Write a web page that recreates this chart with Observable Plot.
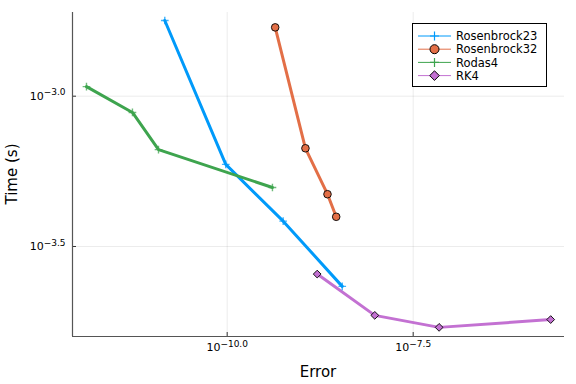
<!DOCTYPE html>
<html><head><meta charset="utf-8">
<script src="https://cdn.jsdelivr.net/npm/d3@7"></script>
<script src="https://cdn.jsdelivr.net/npm/@observablehq/plot@0.6"></script>
<style>
body{margin:0;background:#fff;font-family:"DejaVu Sans",sans-serif;}
#wrap{position:relative;width:576px;height:384px;}
#legend{position:absolute;left:411.5px;top:22.5px;width:135px;height:64px;border:1px solid #000;background:#fff;box-sizing:border-box;}
</style></head><body><div id="wrap"></div>
<script>
const seriesNames = ["Rosenbrock23", "Rosenbrock32", "Rodas4", "RK4"];
const seriesColors = ["#009AFA", "#E36F47", "#3EA44E", "#C371D2"];
const seriesSymbols = ["plus", "circle", "plus", "diamond2"];

const rosenbrock23Error = [1.45e-11, 9.57e-11, 5.66e-10, 3.52e-9];
const rosenbrock23Time  = [1.786e-3, 5.93e-4, 3.84e-4, 2.33e-4];
const rosenbrock32Error = [4.42e-10, 1.127e-9, 2.23e-9, 2.92e-9];
const rosenbrock32Time  = [1.694e-3, 6.71e-4, 4.72e-4, 3.97e-4];
const rodas4Error = [1.285e-12, 5.33e-12, 1.194e-11, 4.06e-10];
const rodas4Time  = [1.076e-3, 8.83e-4, 6.64e-4, 4.97e-4];
const rk4Error = [1.622e-9, 9.64e-9, 7.06e-8, 2.23e-6];
const rk4Time  = [2.56e-4, 1.866e-4, 1.702e-4, 1.807e-4];

const xTickExps = [-10.0, -7.5];
const yTickExps = [-3.0, -3.5];
const xDomainExps = [-12.079, -5.466];
const yDomainExps = [-3.7994, -2.7216];

const errs = [rosenbrock23Error, rosenbrock32Error, rodas4Error, rk4Error];
const times = [rosenbrock23Time, rosenbrock32Time, rodas4Time, rk4Time];
const data = [];
seriesNames.forEach((s, i) => errs[i].forEach((e, j) => data.push({series: s, error: e, time: times[i][j]})));

const pow = e => Math.pow(10, e);
const xTicks = xTickExps.map(pow);
const yTicks = yTickExps.map(pow);

const marks = [
  Plot.gridX(xTicks, {stroke: "#000", strokeOpacity: 0.1, strokeWidth: 0.8}),
  Plot.gridY(yTicks, {stroke: "#000", strokeOpacity: 0.1, strokeWidth: 0.8}),
  Plot.axisX(xTicks, {tickSize: -4, tickPadding: 11, fontSize: 11, stroke: "#333", tickFormat: d => String(d), label: null}),
  Plot.axisY(yTicks, {tickSize: -4, tickPadding: 11, fontSize: 11, stroke: "#333", tickFormat: d => String(d), label: null}),
  Plot.ruleX([pow(xDomainExps[0])], {stroke: "#555", strokeWidth: 1.2}),
  Plot.ruleY([pow(yDomainExps[0])], {stroke: "#555", strokeWidth: 1.2}),
];
seriesNames.forEach((s, i) => {
  const d = data.filter(r => r.series === s);
  marks.push(Plot.line(d, {x: "error", y: "time", stroke: seriesColors[i], strokeWidth: 3}));
});
seriesNames.forEach((s, i) => {
  const d = data.filter(r => r.series === s);
  const sym = seriesSymbols[i];
  if (sym === "plus") {
    marks.push(Plot.dot(d, {x: "error", y: "time", symbol: "plus", r: 2.6, stroke: seriesColors[i], strokeWidth: 1.4, strokeOpacity: 0.75}));
  } else {
    marks.push(Plot.dot(d, {x: "error", y: "time", symbol: sym, r: sym === "diamond2" ? 3.5 : 3.8, fill: seriesColors[i], stroke: "#000", strokeWidth: 0.9}));
  }
});

const chart = Plot.plot({
  width: 576, height: 384,
  marginLeft: 72, marginRight: 12, marginTop: 12, marginBottom: 48,
  style: {fontFamily: "DejaVu Sans, sans-serif", background: "#fff", color: "#000"},
  x: {type: "log", domain: xDomainExps.map(pow)},
  y: {type: "log", domain: yDomainExps.map(pow)},
  marks
});

// superscript tick labels: 10^exp
const fmtExp = e => (e < 0 ? "\u2212" : "") + Math.abs(e).toFixed(1);
d3.select(chart).selectAll('g[aria-label="x-axis tick label"] text').each(function(d, i) {
  const t = d3.select(this);
  t.text("");
  t.append("tspan").text("10");
  t.append("tspan").attr("dy", "-0.5em").attr("font-size", 9).text(fmtExp(xTickExps[i]));
});
d3.select(chart).selectAll('g[aria-label="y-axis tick label"] text').each(function(d, i) {
  const t = d3.select(this);
  t.text("");
  t.append("tspan").text("10");
  t.append("tspan").attr("dy", "-0.5em").attr("font-size", 9).text(fmtExp(yTickExps[i]));
});

// axis labels
const svg = d3.select(chart);
svg.append("text").attr("x", 318).attr("y", 377).attr("text-anchor", "middle")
  .attr("font-size", 15).attr("fill", "#000").text("Error");
svg.append("text").attr("transform", "translate(17,174) rotate(-90)").attr("text-anchor", "middle")
  .attr("font-size", 15).attr("fill", "#000").text("Time (s)");

const wrap = document.getElementById("wrap");
wrap.appendChild(chart);

// legend
const leg = document.createElement("div");
leg.id = "legend";
const lsvg = d3.create("svg").attr("width", 133).attr("height", 62).style("position", "absolute").style("left", 0).style("top", 0);
seriesNames.forEach((s, i) => {
  const y = 12 + i * 13.2;
  const g = lsvg.append("g");
  g.append("line").attr("x1", 5).attr("x2", 38).attr("y1", y).attr("y2", y).attr("stroke", seriesColors[i]).attr("stroke-width", 1);
  const sym = seriesSymbols[i];
  if (sym === "plus") {
    g.append("path").attr("d", `M21.5,${y - 4.5}V${y + 4.5}M17,${y}H26`).attr("stroke", seriesColors[i]).attr("stroke-width", 1.2).attr("fill", "none");
  } else if (sym === "circle") {
    g.append("circle").attr("cx", 21.5).attr("cy", y).attr("r", 4.5).attr("fill", seriesColors[i]).attr("stroke", "#000").attr("stroke-width", 1);
  } else {
    g.append("path").attr("d", `M21.5,${y - 4.8}L26.3,${y}L21.5,${y + 4.8}L16.7,${y}Z`).attr("fill", seriesColors[i]).attr("stroke", "#000").attr("stroke-width", 1);
  }
  g.append("text").attr("x", 43).attr("y", y).attr("dy", "0.36em").attr("font-size", 11.5)
    .attr("font-family", "DejaVu Sans, sans-serif").attr("fill", "#000").text(s);
});
leg.appendChild(lsvg.node());
wrap.appendChild(leg);
</script>
</body></html>
